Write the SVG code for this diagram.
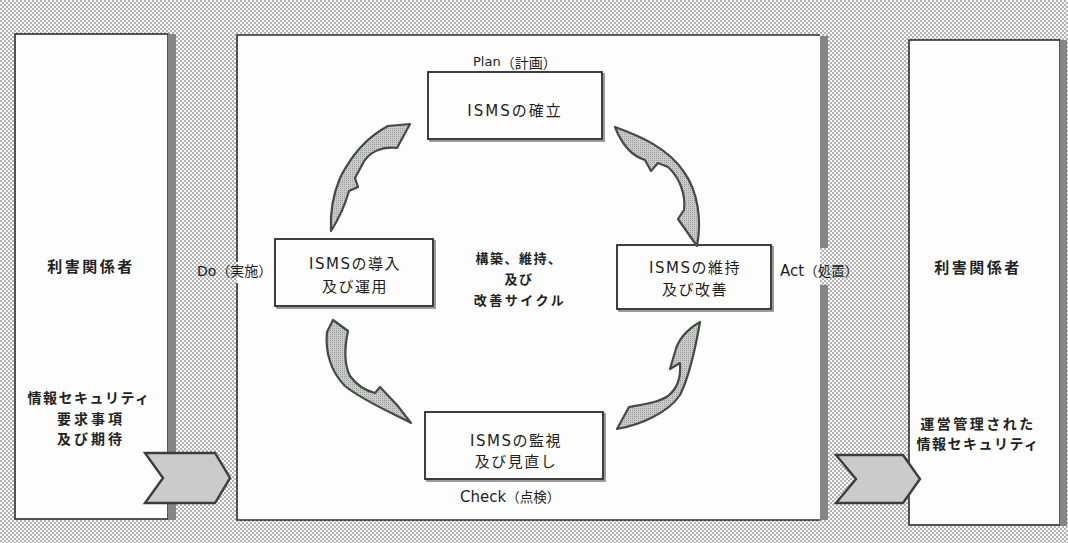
<svg xmlns="http://www.w3.org/2000/svg" width="1068" height="543" viewBox="0 0 1068 543">
<defs>
<pattern id="dots" width="4" height="4" patternUnits="userSpaceOnUse">
<rect width="4" height="4" fill="#f8f8f8"/>
<circle cx="1" cy="1" r="0.7" fill="#3a3a3a"/>
<circle cx="3" cy="3" r="0.7" fill="#3a3a3a"/>
</pattern>
<pattern id="fillDots" width="2" height="2" patternUnits="userSpaceOnUse">
<rect width="2" height="2" fill="#cbcbcb"/>
<rect width="1" height="1" fill="#9c9c9c"/>
</pattern>
</defs>
<style>
.panel{fill:#fdfdfd;stroke:#2e2e2e;stroke-width:1.6}
.bar{fill:#858585}
.edge{stroke:#2e2e2e;stroke-width:1.6;fill:none}
.box{fill:#fdfdfd;stroke:#2a2a2a;stroke-width:1.8}
.shadow{fill:none;stroke:#7a7a7a;stroke-width:1.5}
.arr{fill:url(#fillDots);stroke:#454a45;stroke-width:2.2;stroke-linejoin:round}
.chev{fill:#cbcbcb;stroke:#3c3c3c;stroke-width:2.4;stroke-linejoin:miter}
.t{font-family:"DejaVu Sans","Noto Sans CJK JP",sans-serif;fill:#1e1e1e;text-anchor:middle}
.jb{font-family:"Noto Sans CJK JP",sans-serif;font-weight:bold;fill:#222;text-anchor:middle}
.lbl{font-family:"DejaVu Sans","Noto Sans CJK JP",sans-serif;fill:#1e1e1e}
</style>
<rect width="1068" height="543" fill="url(#dots)"/>

<g id="panel-left">
<rect class="panel" x="15" y="34" width="153" height="485"/>
<rect class="bar" x="168" y="34" width="8" height="486"/>
<text class="jb" x="91" y="272" font-size="15" letter-spacing="2.5">利害関係者</text>
<text class="jb" x="89" y="403" font-size="14" letter-spacing="1.5">情報セキュリティ</text>
<text class="jb" x="91" y="424" font-size="14" letter-spacing="3">要求事項</text>
<text class="jb" x="91" y="444" font-size="14" letter-spacing="3">及び期待</text>
</g>

<g id="panel-middle">
<rect x="237" y="35" width="583" height="485" fill="#fdfdfd"/>
<path class="edge" d="M237,262 V35 H820 M237,283 V520 H820"/>
<rect class="bar" x="820" y="36" width="8" height="212"/>
<rect class="bar" x="820" y="285" width="8" height="235"/>
<text class="lbl" x="197" y="276" font-size="14">Do<tspan font-size="14">（実施）</tspan></text>
<text class="lbl" x="780" y="276" font-size="15">Act<tspan font-size="13.5">（処置）</tspan></text>
</g>

<g id="panel-right">
<rect class="panel" x="909" y="40" width="151" height="485"/>
<rect class="bar" x="1060" y="40" width="7" height="486"/>
<text class="jb" x="978" y="273" font-size="15" letter-spacing="2.5">利害関係者</text>
<text class="jb" x="978" y="429" font-size="14" letter-spacing="2.5">運営管理された</text>
<text class="jb" x="978" y="449" font-size="14" letter-spacing="1.5">情報セキュリティ</text>
</g>

<g id="node-plan">
<rect class="shadow" x="430" y="74" width="174" height="67"/>
<rect class="box" x="428" y="72" width="174" height="67"/>
<text class="lbl" x="473" y="66" font-size="13">Plan<tspan font-size="14" dy="2">（計画）</tspan></text>
<text class="t" x="515" y="116" font-size="15" letter-spacing="2">ISMSの確立</text>
</g>

<g id="node-do">
<rect class="shadow" x="277" y="241" width="158" height="67"/>
<rect class="box" x="275" y="239" width="158" height="67"/>
<text class="t" x="355" y="269" font-size="15" letter-spacing="1.5">ISMSの導入</text>
<text class="t" x="355" y="292" font-size="15" letter-spacing="1.5">及び運用</text>
</g>

<g id="node-act">
<rect class="shadow" x="619" y="247" width="154" height="64"/>
<rect class="box" x="617" y="245" width="154" height="64"/>
<text class="t" x="695" y="273" font-size="15" letter-spacing="1.5">ISMSの維持</text>
<text class="t" x="695" y="295" font-size="15" letter-spacing="1.5">及び改善</text>
</g>

<g id="node-check">
<rect class="shadow" x="427" y="414" width="178" height="67"/>
<rect class="box" x="425" y="412" width="178" height="67"/>
<text class="t" x="516" y="446" font-size="15" letter-spacing="1.5">ISMSの監視</text>
<text class="t" x="516" y="467" font-size="15" letter-spacing="1.5">及び見直し</text>
<text class="lbl" x="460" y="502" font-size="15">Check<tspan font-size="13.5">（点検）</tspan></text>
</g>

<g id="center-label">
<text class="jb" x="519" y="263" font-size="13" letter-spacing="1.5">構築、維持、</text>
<text class="jb" x="519" y="284" font-size="13" letter-spacing="1.5">及び</text>
<text class="jb" x="520" y="305" font-size="13" letter-spacing="2.5">改善サイクル</text>
</g>

<g id="connectors">
<path class="arr" d="M615,127 C640,136 668,148 684,172 C698,192 702,220 697,246 L678,219 L684,210 C686,195 680,178 668,167 L658,163 L651,171 L645,160 C632,156 622,145 615,127 Z"/>
<path class="arr" d="M388,126 L410,124 L397,148 C382,146 368,152 362,165 L355,178 L358,187 L349,191 C345,205 338,220 331,231 C330,214 333,195 340,178 C350,158 365,138 388,126 Z"/>
<path class="arr" d="M333,320 L348,331 C345,345 343,362 350,376 C358,387 367,391 375,393 L380,387 L397,405 L411,423 C390,412 362,400 345,386 C331,372 325,352 327,332 Z"/>
<path class="arr" d="M617,429 L629,407 C645,404 660,402 668,396 C678,388 681,375 680,363 L670,369 L675,352 C678,340 686,330 700,322 C696,345 690,375 680,395 C668,413 640,425 617,429 Z"/>
<path class="chev" d="M145,453 H215 L230,478 L215,503 H145 L163,478 Z"/>
<path class="chev" d="M836,455 H903 L920,479 L903,503 H836 L856,479 Z"/>
</g>
</svg>
